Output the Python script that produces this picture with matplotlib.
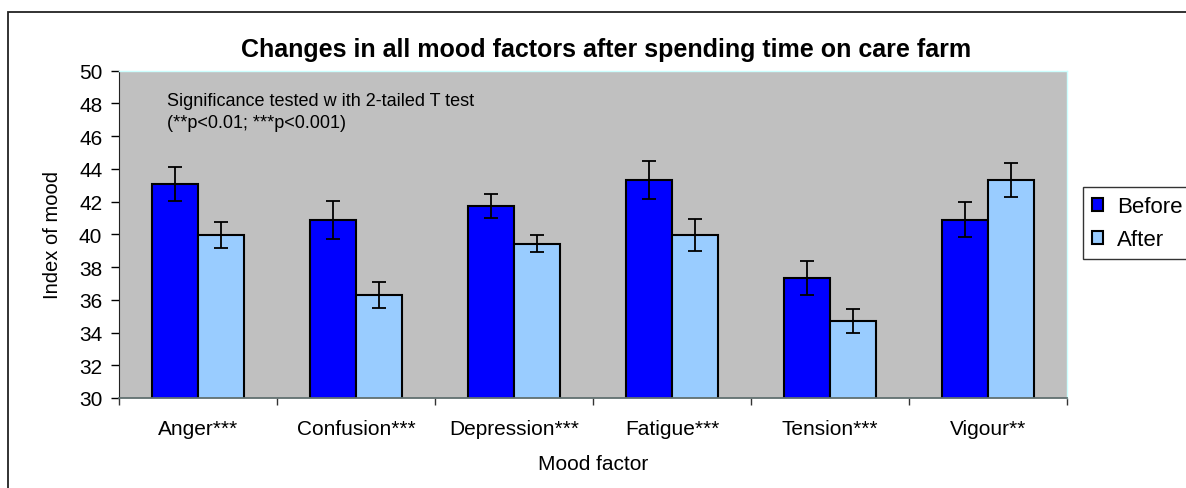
import numpy as np
import matplotlib
matplotlib.use('Agg')
import matplotlib.pyplot as plt
from matplotlib.patches import Rectangle

plt.rcParams['font.family'] = ['Liberation Sans', 'DejaVu Sans']

# data
factors = ['Anger***', 'Confusion***', 'Depression***', 'Fatigue***', 'Tension***', 'Vigour**']
before = [43.07, 40.89, 41.75, 43.32, 37.35, 40.89]
before_err = [1.05, 1.15, 0.73, 1.18, 1.05, 1.06]
after = [39.96, 36.29, 39.43, 39.96, 34.72, 43.32]
after_err = [0.80, 0.80, 0.53, 0.95, 0.73, 1.02]

W, H = 1186, 489
fig = plt.figure(figsize=(W / 100, H / 100), dpi=100)
ax = fig.add_axes([119 / W, 1 - 399 / H, (1067 - 119) / W, (399 - 71.7) / H])

# outer chart frame (runs off right and bottom like the crop)
fig.patches.append(Rectangle((8 / W, -0.1), 1.2, 1 - 13 / H + 0.1, transform=fig.transFigure,
                             fill=False, edgecolor='#222222', linewidth=1.3))

x = np.arange(len(factors))
w = 0.29
ax.set_facecolor('#C0C0C0')
ax.bar(x - w / 2, before, w, color='#0000FF', edgecolor='black', linewidth=1.5,
       label='Before', zorder=2)
ax.bar(x + w / 2, after, w, color='#99CCFF', edgecolor='black', linewidth=1.5,
       label='After', zorder=2)
ax.errorbar(x - w / 2, before, yerr=before_err, fmt='none', ecolor='black', elinewidth=1.3,
            capsize=5, capthick=1.3, zorder=3)
ax.errorbar(x + w / 2, after, yerr=after_err, fmt='none', ecolor='black', elinewidth=1.3,
            capsize=5, capthick=1.3, zorder=3)

ax.set_ylim(30, 50)
ax.set_xlim(-0.5, len(factors) - 0.5)
ax.set_yticks(np.arange(30, 51, 2))
ax.set_xticks(x)
ax.set_xticklabels(factors)
ax.set_xticks(np.arange(-0.5, len(factors), 1), minor=True)
ax.tick_params(axis='x', which='major', length=0, pad=15, labelsize=15)
ax.tick_params(axis='x', which='minor', length=5, width=1, color='#333333')
ax.tick_params(axis='y', length=6, width=1, labelsize=15, pad=6)

for s in ['top', 'right']:
    ax.spines[s].set_color('#CCFFFF')
    ax.spines[s].set_linewidth(1)
ax.spines['left'].set_color('#222222')
ax.spines['bottom'].set_color('#607070')
ax.spines['bottom'].set_linewidth(1.3)

ax.set_ylabel('Index of mood', fontsize=14.5, labelpad=12)
ax.set_xlabel('Mood factor', fontsize=15, labelpad=12)

fig.text(606 / W, 1 - 56.5 / H, 'Changes in all mood factors after spending time on care farm',
         ha='center', va='baseline', fontsize=18, fontweight='bold')

ax.text(0.0503, 1 - (102 - 71.7) / 327.3, 'Significance tested w ith 2-tailed T test',
        transform=ax.transAxes, fontsize=13, va='center')
ax.text(0.0503, 1 - (124 - 71.7) / 327.3, '(**p<0.01; ***p<0.001)',
        transform=ax.transAxes, fontsize=13, va='center')

leg = ax.legend(loc='upper left', bbox_to_anchor=(1082.7 / W, 1 - 188.3 / H),
                bbox_transform=fig.transFigure, fontsize=16, frameon=True, fancybox=False,
                handlelength=0.5, handleheight=0.5, handletextpad=0.65, borderpad=0.4,
                labelspacing=0.55, borderaxespad=0)
leg.get_frame().set_edgecolor('black')
leg.get_frame().set_linewidth(1)

fig.savefig('out.png', dpi=100)
